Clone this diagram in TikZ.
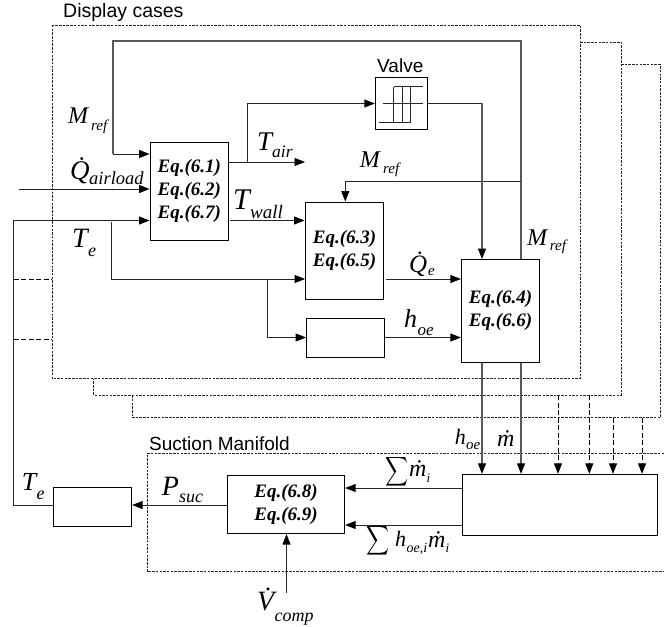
\documentclass[tikz,border=0pt]{standalone}
\usepackage{fontspec}
\setmainfont{Liberation Serif}
\setsansfont{Liberation Sans}
\usetikzlibrary{arrows.meta}
\tikzset{
  blk/.style={draw=black,line width=0.9bp,inner sep=0pt,fill=white,align=center,font=\fontsize{19bp}{23bp}\selectfont\bfseries\itshape},
  wire/.style={draw=black!85,line width=0.9bp},
  heavy/.style={draw=black!65,line width=1.15bp},
  arr/.style={-{Triangle[length=10.5bp,width=8bp,color=black]}},
  casebox/.style={draw=black!85,line width=0.8bp,dash pattern=on 2.5bp off 1.2bp},
  feed/.style={draw=black,line width=0.8bp,dash pattern=on 5bp off 2.5bp},
  lab/.style={inner sep=0pt,anchor=base west,text=black},
  sumsign/.style={inner sep=0pt,xscale=1.6,yscale=2.05},
}
\newcommand\blk[6]{\node[blk,minimum width={(#4-#2)*1bp},minimum height={(#5-#3)*1bp}] (#1) at ({(#2+#4)/2},{(#3+#5)/2}) {#6};}
\newcommand\lb[5]{\node[lab,font=\fontsize{#4bp}{#4bp}\selectfont\itshape] (#1) at (#2,#3) {#5};}
\newcommand\slab[5]{\node[lab,font=\fontsize{#4bp}{#4bp}\selectfont\sffamily] (#1) at (#2,#3) {#5};}
\begin{document}
\begin{tikzpicture}[x=1bp,y=-1bp]
\useasboundingbox (0,0) rectangle (664,627);
% case frames
\coordinate (c1a) at (580,42); \coordinate (c1b) at (621,42); \coordinate (c1c) at (621,395); \coordinate (c1d) at (93.7,395); \coordinate (c1e) at (93.7,379);
\coordinate (c2a) at (621,64.5); \coordinate (c2b) at (660,64.5); \coordinate (c2c) at (660,417.7); \coordinate (c2d) at (132.3,417.7); \coordinate (c2e) at (132.3,395);
\draw[casebox] (52,25) rectangle (580,378.7);
\draw[casebox] (c1a) -- (c1b) -- (c1c) -- (c1d) -- (c1e);
\draw[casebox] (c2a) -- (c2b) -- (c2c) -- (c2d) -- (c2e);
\draw[casebox] (664,453.7) -- (147,453.7) -- (147,571.7) -- (664,571.7);
% blocks
\blk{bA}{150}{142}{228.5}{240}{Eq.(6.1)\\Eq.(6.2)\\Eq.(6.7)}
\blk{bB}{305.5}{202}{383.5}{299.5}{Eq.(6.3)\\Eq.(6.5)}
\blk{bC}{306.5}{318}{384.5}{357}{}
\blk{bD}{461.3}{259.5}{539.7}{362.3}{Eq.(6.4)\\Eq.(6.6)}
\blk{bV}{375.3}{77.5}{427.3}{129}{}
\blk{bM}{462.3}{474.3}{657.7}{535}{}
\blk{bS}{227.3}{475.3}{344.7}{533.7}{Eq.(6.8)\\Eq.(6.9)}
\blk{bT}{53.3}{487}{131.7}{526.3}{}
% valve symbol
\draw[black!85,line width=0.7bp] (393.7,86.7) -- (422.7,86.7) (382.7,103) -- (422.7,103) (379.3,122.7) -- (410.3,122.7)
  (393.7,86.7) -- (393.7,122.7) (402.7,86.7) -- (402.7,122.7) (410.3,86.7) -- (410.3,122.7);
% junctions
\coordinate (jMa) at (521,41); \coordinate (jMb) at (113,41); \coordinate (jMc) at (113,154);
\coordinate (jMd) at (521,181.5); \coordinate (jMe) at (345.3,181.5);
\coordinate (sQ) at (19,189);
\coordinate (jTa) at (13.5,505); \coordinate (jTb) at (13.5,220.5);
\coordinate (jEa) at (111,222); \coordinate (jEb) at (111,279); \coordinate (jEc) at (267.5,279); \coordinate (jEd) at (267.5,337.5);
\coordinate (jAa) at (247.5,162); \coordinate (jAb) at (247.5,103.5); \coordinate (eA) at (305,162);
\coordinate (jVa) at (482,103.5);
\coordinate (jFa) at (13.5,279); \coordinate (jFb) at (52,279); \coordinate (jFc) at (13.5,339.7); \coordinate (jFd) at (52,339.7);
\coordinate (dA) at (558,395); \coordinate (dB) at (589.3,395); \coordinate (dC) at (613,417.7); \coordinate (dD) at (642,417.7);
\coordinate (sV) at (286.5,593);
\coordinate (jW1) at (230,220.5); \coordinate (jW2) at (304.5,220.5);
\coordinate (jQ1) at (386,279); \coordinate (jH1) at (384.5,337.5);
\coordinate (jS1) at (400,488); \coordinate (jS2) at (400,525); \coordinate (jP) at (200,505);
% connectors
\draw[heavy] (bD.north -| jMa) -- (jMa) -- (jMb) -- (jMc);
\draw[wire,arr] (jMc) -- (bA.west |- jMc);
\draw[wire,arr] (jMd) -- (jMe) -- (bB.north -| jMe);
\draw[wire,arr] (sQ) -- (bA.west |- sQ);
\draw[wire,arr] (bT.west |- jTa) -- (jTa) -- (jTb) -- (bA.west |- jTb);
\draw[wire,arr] (jEa) -- (jEb) -- (bB.west |- jEb);
\draw[wire,arr] (jEc) -- (jEd) -- (bC.west |- jEd);
\draw[feed] (jFa) -- (jFb);
\draw[feed] (jFc) -- (jFd);
\draw[wire,arr] (bA.east |- jAa) -- (eA);
\draw[wire,arr] (jAa) -- (jAb) -- (bV.west |- jAb);
\draw[wire] (bV.east |- jVa) -- (jVa);
\draw[heavy,arr] (jVa) -- (bD.north -| jVa);
\draw[wire,arr] (jW1) -- (jW2);
\draw[wire,arr] (jQ1) -- (bD.west |- jQ1);
\draw[wire,arr] (jH1) -- (bD.west |- jH1);
\draw[heavy,arr] (bD.south -| jVa) -- (bM.north -| jVa);
\draw[heavy,arr] (bD.south -| jMa) -- (bM.north -| jMa);
\draw[feed,arr] (dA) -- (dA |- bM.north);
\draw[feed,arr] (dB) -- (dB |- bM.north);
\draw[feed,arr] (dC) -- (dC |- bM.north);
\draw[feed,arr] (dD) -- (dD |- bM.north);
\draw[wire,arr] (bM.west |- jS1) -- (bS.east |- jS1);
\draw[wire,arr] (bM.west |- jS2) -- (bS.east |- jS2);
\draw[wire,arr] (bS.west |- jP) -- (bT.east |- jP);
\draw[wire,arr] (sV) -- (sV |- bS.south);
% sans labels
\slab{tDisp}{63}{17.7}{19.5}{Display cases}
\slab{tVal}{377}{72.7}{19}{Valve}
\slab{tSuc}{149}{450}{19}{Suction Manifold}
% math labels
\lb{mA}{68}{124}{24}{M}\lb{mAs}{91}{131}{15}{ref}
\lb{qA}{70}{180}{27}{\.Q}\lb{qAs}{89}{185}{18.5}{airload}
\lb{tA}{257}{150.7}{27}{T}\lb{tAs}{272}{158}{17.5}{air}
\lb{tW}{233}{209}{30}{T}\lb{tWs}{250}{218}{19}{wall}
\lb{tE}{72}{247.7}{28}{T}\lb{tEs}{88}{256}{18}{e}
\lb{mB}{359.7}{168}{24}{M}\lb{mBs}{383}{174}{15}{ref}
\lb{mC}{527}{245}{24}{M}\lb{mCs}{549.7}{250.7}{15}{ref}
\lb{qE}{409}{272.7}{25}{\.Q}\lb{qEs}{428}{275.3}{15}{e}
\lb{hA}{404}{327.7}{26}{h}\lb{hAs}{417.5}{335.7}{17}{oe}
\lb{hB}{454.7}{444}{22}{h}\lb{hBs}{466}{449.3}{15}{oe}
\lb{mD}{497}{446.7}{24}{\.m}
\lb{pS}{161.7}{495}{28}{P}\lb{pSs}{179}{502.7}{18}{suc}
\lb{tF}{21.7}{490.7}{26}{T}\lb{tFs}{36.5}{499}{18}{e}
\lb{vC}{257}{610.7}{28}{\.V}\lb{vCs}{274.5}{621.7}{18}{comp}
\node[sumsign] (sA) at (396.7,471.5) {$\displaystyle\sum$};
\lb{mE}{409}{476.7}{24}{\.m}\lb{mEs}{426.5}{482}{13}{i}
\node[sumsign] (sB) at (378.5,541) {$\displaystyle\sum$};
\lb{hC}{395}{546.7}{22}{h}\lb{hCs}{406.5}{552.7}{14}{oe,i}
\lb{mF}{428}{547}{24}{\.m}\lb{mFs}{445.5}{552.7}{13}{i}
\end{tikzpicture}
\end{document}
